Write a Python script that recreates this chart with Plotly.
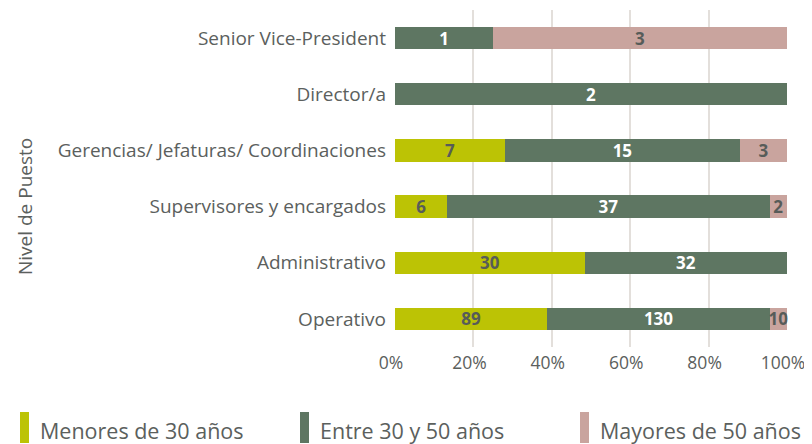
import plotly.graph_objects as go

categories = ["Operativo", "Administrativo", "Supervisores y encargados",
              "Gerencias/ Jefaturas/ Coordinaciones", "Director/a", "Senior Vice-President"]
series_names = ["Menores de 30 años", "Entre 30 y 50 años", "Mayores de 50 años"]
menores = [89, 30, 6, 7, 0, 0]
entre = [130, 32, 37, 15, 2, 1]
mayores = [10, 0, 2, 3, 0, 3]
x_ticks = [0, 20, 40, 60, 80, 100]
x_tick_labels = ["0%", "20%", "40%", "60%", "80%", "100%"]

colors = ["#bcc305", "#5e7662", "#c9a49e"]
text_colors = ["#575c59", "#ffffff", "#575c59"]
FONT = "Open Sans"
GREY = "#5b605d"

# page body has an 8px margin: figure is drawn 8px right/down of the window origin
W, H = 804, 436
ML, MR, MT, MB = 387, 25, 2, 97
PW, PH = W - ML - MR, H - MT - MB


def px(xs):  # screen x -> paper x
    return (xs - 8 - ML) / PW


def py(ys):  # screen y -> paper y
    return (H - MB - (ys - 8)) / PH


fig = go.Figure()
for name, vals, col, tcol in zip(series_names, [menores, entre, mayores], colors, text_colors):
    fig.add_trace(go.Bar(
        y=categories, x=vals, name=name, orientation="h",
        marker=dict(color=col, line=dict(width=0)),
        text=[str(v) if v else "" for v in vals],
        textposition="inside", insidetextanchor="middle", textangle=0,
        constraintext="none",
        textfont=dict(family=FONT, size=17, color=tcol, weight="bold"),
        showlegend=False, cliponaxis=False,
    ))

fig.update_layout(
    barmode="stack", barnorm="percent", bargap=0.6,
    width=W, height=H,
    margin=dict(l=ML, r=MR, t=MT, b=MB),
    plot_bgcolor="white", paper_bgcolor="white",
    font=dict(family=FONT, color=GREY, size=17),
    uniformtext=dict(mode=False),
)
fig.update_xaxes(range=[0, 100], tickvals=x_ticks, ticktext=x_tick_labels,
                 showgrid=True, gridcolor="#e3dfdb", gridwidth=1.5, zeroline=False,
                 tickfont=dict(size=17.5, color=GREY), ticks="", ticklabelstandoff=3,
                 ticklabelshift=-4, automargin=False, fixedrange=True)
fig.update_yaxes(showgrid=False, showline=False, ticks="", ticklabelstandoff=8,
                 tickfont=dict(size=19, color=GREY), automargin=False, fixedrange=True)

fig.add_annotation(text="Nivel de Puesto", xref="paper", yref="paper",
                   x=px(25), y=py(207), textangle=-90, showarrow=False,
                   font=dict(size=19, color=GREY, family=FONT), xanchor="center", yanchor="middle")

legend_rect_x = [20, 300, 580]
for lx, name, col in zip(legend_rect_x, series_names, colors):
    fig.add_shape(type="rect", xref="paper", yref="paper",
                  x0=px(lx), x1=px(lx + 9),
                  y0=py(443), y1=py(412),
                  fillcolor=col, line=dict(width=0))
    fig.add_annotation(text=name, xref="paper", yref="paper",
                       x=px(lx + 18), y=py(430),
                       xanchor="left", yanchor="middle", showarrow=False,
                       font=dict(size=21.5, color=GREY, family=FONT))

fig.write_html("out.html")
